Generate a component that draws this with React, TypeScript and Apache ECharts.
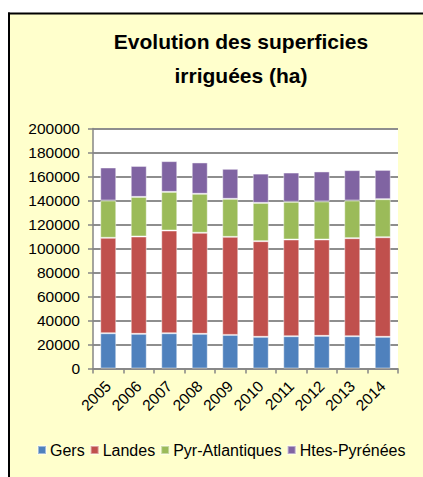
import React, { useEffect, useRef } from "react";
import * as echarts from "echarts";

const years = ["2005", "2006", "2007", "2008", "2009", "2010", "2011", "2012", "2013", "2014"];
const gers = [29400, 28900, 29400, 28900, 28000, 26400, 26900, 27200, 26900, 26400];
const landes = [79500, 81100, 85600, 84200, 81700, 79700, 80600, 80300, 81700, 83000];
const pyrAtlantiques = [31100, 33000, 32200, 32500, 31700, 31900, 31400, 31700, 31400, 31700];
const htesPyrenees = [27500, 25800, 25600, 26100, 25000, 24400, 24400, 25000, 25300, 24400];
const seriesNames = ["Gers", "Landes", "Pyr-Atlantiques", "Htes-Pyrénées"];
const seriesColors = ["#4F81BD", "#C0504D", "#9BBB59", "#8064A2"];
const titleLines = ["Evolution des superficies", "irriguées (ha)"];
const yMax = 200000;
const yInterval = 20000;

const FONT = "'Liberation Sans', Arial, sans-serif";

export default function App() {
  const ref = useRef<HTMLDivElement>(null);
  useEffect(() => {
    if (!ref.current) return;
    document.documentElement.style.overflow = "hidden";
    document.body.style.overflow = "hidden";
    const chart = echarts.init(ref.current, undefined, { renderer: "svg" });
    const values = [gers, landes, pyrAtlantiques, htesPyrenees];
    chart.setOption({
      animation: false,
      backgroundColor: "#ffffff",
      textStyle: { fontFamily: FONT },
      graphic: [
        {
          type: "rect",
          z: -10,
          silent: true,
          shape: { x: 9, y: 13.5, width: 420, height: 470 },
          style: { fill: "#FFFFCC" },
        },
        {
          type: "line",
          z: -9,
          silent: true,
          shape: { x1: 9, y1: 12.5, x2: 9, y2: 477 },
          style: { stroke: "#000000", lineWidth: 2 },
        },
        {
          type: "line",
          z: -9,
          silent: true,
          shape: { x1: 8, y1: 13.5, x2: 423, y2: 13.5 },
          style: { stroke: "#000000", lineWidth: 2 },
        },
        {
          type: "rect",
          z: -9,
          silent: true,
          shape: { x: 93, y: 128.5, width: 305, height: 240 },
          style: { fill: "#ffffff" },
        },
        {
          type: "text",
          x: 241,
          y: 41,
          style: {
            text: titleLines[0],
            fontFamily: FONT,
            fontSize: 21,
            fontWeight: "bold",
            fill: "#000",
            textAlign: "center",
            textVerticalAlign: "middle",
          },
        },
        {
          type: "text",
          x: 241,
          y: 75,
          style: {
            text: titleLines[1],
            fontFamily: FONT,
            fontSize: 21,
            fontWeight: "bold",
            fill: "#000",
            textAlign: "center",
            textVerticalAlign: "middle",
          },
        },
      ],
      legend: {
        left: 37,
        top: 442,
        padding: 0,
        itemWidth: 8,
        itemHeight: 8,
        itemGap: 5,
        icon: "rect",
        data: seriesNames,
        textStyle: { fontFamily: FONT, fontSize: 16, color: "#000", padding: [0, 0, 0, -1] },
      },
      grid: { left: 93, right: 25, top: 128.5, bottom: 108.5, containLabel: false },
      xAxis: {
        type: "category",
        data: years,
        axisLine: { show: true, lineStyle: { color: "#868686", width: 1.5 } },
        axisTick: { show: true, length: 5, lineStyle: { color: "#868686", width: 1.5 } },
        axisLabel: { rotate: 45, margin: 15, fontFamily: FONT, fontSize: 15.5, color: "#000" },
      },
      yAxis: {
        type: "value",
        min: 0,
        max: yMax,
        interval: yInterval,
        axisLine: { show: true, lineStyle: { color: "#868686", width: 1.5 } },
        axisTick: { show: true, length: 5, lineStyle: { color: "#868686", width: 1.5 } },
        splitLine: { show: true, lineStyle: { color: "#8e8e8e", width: 2 } },
        axisLabel: {
          margin: 13,
          fontFamily: FONT,
          fontSize: 15.5,
          color: "#000",
          formatter: (v: number) => String(v),
        },
      },
      series: seriesNames.map((name, i) => ({
        name,
        type: "bar",
        stack: "total",
        data: values[i],
        barWidth: 16,
        itemStyle: {
          color: seriesColors[i],
          borderColor: "rgba(255,255,255,0.45)",
          borderWidth: 1,
        },
      })),
    });
    return () => chart.dispose();
  }, []);
  return (
    <div
      ref={ref}
      style={{ position: "absolute", left: 0, top: 0, width: 423, height: 477 }}
    />
  );
}
